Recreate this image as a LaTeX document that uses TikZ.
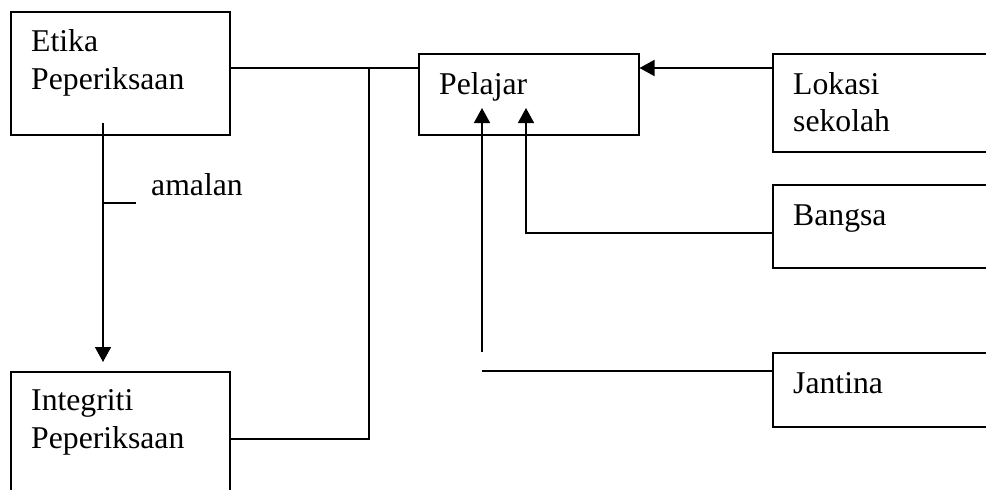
\documentclass[tikz,border=0pt]{standalone}
\usepackage{fontspec}
\setmainfont{Liberation Serif}
\usetikzlibrary{arrows.meta,calc}
\begin{document}
\begin{tikzpicture}[x=1pt,y=-1pt,
  box/.style={draw,line width=1.5pt,inner sep=0pt,anchor=north west},
  lbl/.style={inner sep=0pt,anchor=base west,font=\fontsize{31.7}{38}\selectfont},
  conn/.style={line width=1.6pt},
  arr/.style={conn,-{Triangle[width=16pt,length=15pt]}}]
\useasboundingbox (0,0) rectangle (986,490);
\clip (0,0) rectangle (986,490);
% boxes
\node[box,minimum width=219pt,minimum height=123pt] (etika) at (10,11) {};
\node[box,minimum width=219pt,minimum height=135pt] (integ) at (10,371) {};
\node[box,minimum width=220pt,minimum height=81pt] (pel) at (418,53) {};
\node[box,minimum width=230pt,minimum height=98pt] (lok) at (772,53) {};
\node[box,minimum width=230pt,minimum height=83pt] (bang) at (772,184) {};
\node[box,minimum width=230pt,minimum height=74pt] (jant) at (772,352) {};
% texts
\node[lbl] (etika1) at (31,51) {Etika};
\node[lbl] (etika2) at (31,89) {Peperiksaan};
\node[lbl] (integ1) at (31,410) {Integriti};
\node[lbl] (integ2) at (31,448) {Peperiksaan};
\node[lbl] (pelT) at (439,94) {Pelajar};
\node[lbl] (lok1) at (793,94) {Lokasi};
\node[lbl] (lok2) at (793,131) {sekolah};
\node[lbl] (bangT) at (793,225) {Bangsa};
\node[lbl] (jantT) at (793,393) {Jantina};
\node[lbl] (amT) at (151,195) {amalan};
% connector points
\coordinate (eS) at (103,123);
\coordinate (am) at (103,203);
\coordinate (jr) at (369,68);
\coordinate (jb) at (369,439);
\coordinate (bA) at (526,108);
\coordinate (bY) at (0,233);
\coordinate (jA) at (482,108);
\coordinate (jV) at (482,352);
\coordinate (jY) at (0,371);
% connectors
\draw[arr,shorten >=9pt] (eS) -- (eS |- integ.north);
\draw[conn] (am) -- ++(33,0);
\draw[conn] (etika.east |- jr) -- (pel.west |- jr);
\draw[conn] (jr) -- (jb) -- (integ.east |- jb);
\draw[arr] (lok.west |- jr) -- (pel.east |- jr);
\draw[arr] (bang.west |- bY) -- (bA |- bY) -- (bA);
\draw[arr] (jV) -- (jA);
\draw[conn] (jant.west |- jY) -- (jV |- jY);
\end{tikzpicture}
\end{document}
